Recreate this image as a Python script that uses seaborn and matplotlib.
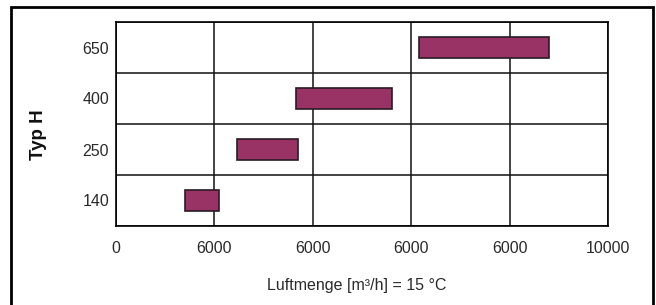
import numpy as np
import pandas as pd
import seaborn as sns
import matplotlib.pyplot as plt
from matplotlib.patches import Rectangle

# Daten: Luftmengenbereiche je Typ
typ_labels = ['650', '400', '250', '140']
luft_min = [6150, 3650, 2450, 1400]
luft_max = [8800, 5600, 3700, 2100]
x_ticks = [0, 2000, 4000, 6000, 8000, 10000]
x_ticklabels = ['0', '6000', '6000', '6000', '6000', '10000']

df = pd.DataFrame({'typ': typ_labels, 'start': luft_min, 'ende': luft_max})
df['breite'] = df['ende'] - df['start']

sns.set_theme(style='white')
plt.rcParams['font.family'] = ['Liberation Sans', 'DejaVu Sans']

fig = plt.figure(figsize=(6.56, 3.05), dpi=100)
ax = fig.add_axes([116 / 656, 1 - 226 / 305, 492 / 656, 204 / 305])

sns.barplot(data=df, x='breite', y='typ', order=typ_labels, left=df['start'].values,
            width=0.4, color='#993366', saturation=1, edgecolor='#2b1a24',
            linewidth=1.2, ax=ax, zorder=3)

ax.set_xlim(0, 10000)
ax.set_ylim(len(typ_labels) - 0.5, -0.5)
ax.set_xticks(x_ticks)
ax.set_xticklabels(x_ticklabels)
ax.set_yticks(np.arange(len(typ_labels) + 1) - 0.5, minor=True)
ax.tick_params(axis='y', which='major', length=0, labelsize=11.5, pad=5)
ax.tick_params(axis='y', which='minor', length=5, width=1.2, color='black', direction='out')
ax.tick_params(axis='x', length=4, width=1.2, color='black', direction='out', labelsize=11.5, pad=7)
ax.tick_params(colors='#2a2a2a', which='both')

ax.grid(True, axis='x', which='major', color='#111111', lw=1.1)
ax.grid(True, axis='y', which='minor', color='#111111', lw=1.1)
ax.set_axisbelow(True)
for s in ax.spines.values():
    s.set_color('black')
    s.set_linewidth(1.2)

ax.set_ylabel('Typ H', fontsize=13.5, fontweight='bold', color='#111111')
ax.yaxis.set_label_coords(-0.14, 0.45)
ax.set_xlabel('Luftmenge [m³/h] = 15 °C', fontsize=11.5, color='#2a2a2a')
ax.xaxis.set_label_coords(0.49, -0.255)

# Rahmen um das Diagramm
fig.patches.append(Rectangle((11 / 656, -0.1), 642 / 656, 1.1 - 7 / 305, transform=fig.transFigure,
                             fill=False, edgecolor='black', lw=2, clip_on=False))

plt.savefig('out.png', dpi=100)
